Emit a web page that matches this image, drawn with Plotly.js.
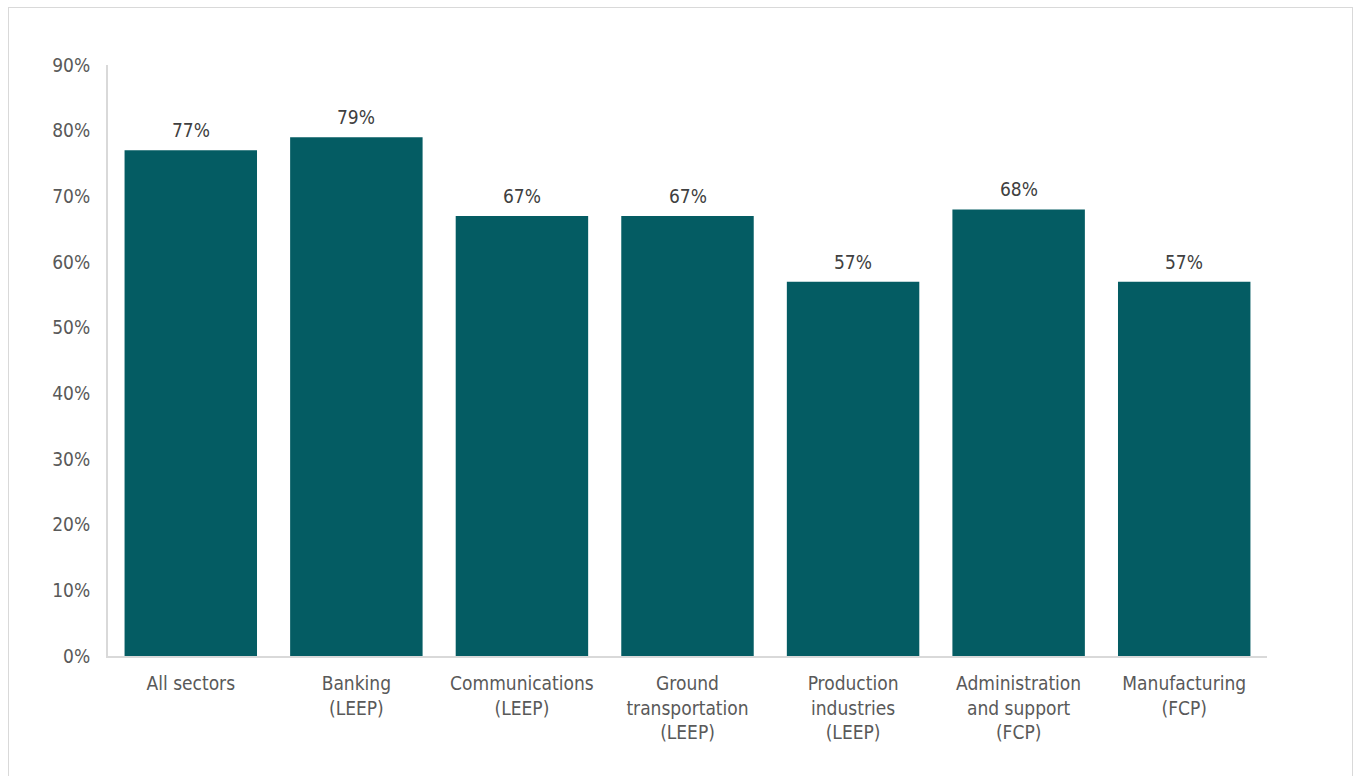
<!DOCTYPE html>
<html>
<head>
<meta charset="utf-8">
<script src="https://cdn.plot.ly/plotly-3.0.1.min.js"></script>
<style>
html,body{margin:0;padding:0;background:#fff;}
#chart{position:absolute;left:0;top:0;width:1353px;height:776px;}
#frame{position:absolute;left:8px;top:7px;width:1343px;height:790px;border:1px solid #d9d9d9;pointer-events:none;}
</style>
</head>
<body>
<div id="chart"></div>
<div id="frame"></div>
<script>
const categories = ["All sectors", "Banking<br>(LEEP)", "Communications<br>(LEEP)", "Ground<br>transportation<br>(LEEP)", "Production<br>industries<br>(LEEP)", "Administration<br>and support<br>(FCP)", "Manufacturing<br>(FCP)"];
const values = [0.77, 0.79, 0.67, 0.67, 0.57, 0.68, 0.57];
const valueLabels = ["77%", "79%", "67%", "67%", "57%", "68%", "57%"];
const tickVals = [0, 0.1, 0.2, 0.3, 0.4, 0.5, 0.6, 0.7, 0.8, 0.9];
const tickText = ["0%", "10%", "20%", "30%", "40%", "50%", "60%", "70%", "80%", "90%"];

const fontFam = "'DejaVu Sans Condensed', 'Liberation Sans Narrow', sans-serif";
const trace = {
  type: 'bar',
  x: categories,
  y: values,
  marker: {color: '#045C63'},
  hoverinfo: 'none'
};
const annotations = categories.map((c, i) => ({
  x: c, y: values[i], xref: 'x', yref: 'y',
  text: valueLabels[i], showarrow: false,
  yanchor: 'bottom', yshift: 7,
  font: {family: fontFam, size: 19, color: '#404040'}
}));
const layout = {
  width: 1353, height: 776,
  margin: {l: 108, r: 86, t: 65, b: 120},
  paper_bgcolor: 'rgba(0,0,0,0)',
  plot_bgcolor: 'rgba(0,0,0,0)',
  bargap: 0.2,
  showlegend: false,
  annotations: annotations,
  font: {family: fontFam, size: 19, color: '#595959'},
  xaxis: {
    showline: true, linecolor: '#d9d9d9', linewidth: 2,
    ticks: '', showgrid: false, zeroline: false,
    ticklabelstandoff: 9,
    tickfont: {family: fontFam, size: 19, color: '#595959'},
    automargin: false
  },
  yaxis: {
    range: [0, 0.9], tickvals: tickVals, ticktext: tickText,
    showline: true, linecolor: '#d9d9d9', linewidth: 2,
    showgrid: false, zeroline: false, ticks: '',
    ticklabelstandoff: 12,
    tickfont: {family: fontFam, size: 19, color: '#595959'},
    automargin: false
  }
};
Plotly.newPlot('chart', [trace], layout, {displayModeBar: false, staticPlot: true});
</script>
</body>
</html>
